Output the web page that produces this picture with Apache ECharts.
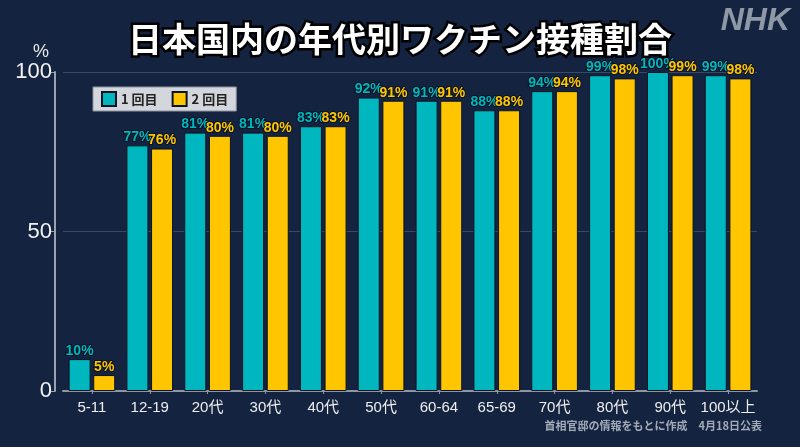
<!DOCTYPE html>
<html>
<head>
<meta charset="utf-8">
<script src="https://cdn.jsdelivr.net/npm/echarts@6/dist/echarts.min.js"></script>
<style>
	html, body { margin: 0; padding: 0; background: #14233f; }
	#chart { width: 800px; height: 447px; }
</style>
</head>
<body>
<div id="chart"></div>
<script>
var categories = ['5-11', '12-19', '20代', '30代', '40代', '50代', '60-64', '65-69', '70代', '80代', '90代', '100以上'];
var dose1 = [10, 77, 81, 81, 83, 92, 91, 88, 94, 99, 100, 99];
var dose2 = [5, 76, 80, 80, 83, 91, 91, 88, 94, 98, 99, 98];
var yTicks = [0, 50, 100];

var fontJP = '"Noto Sans CJK JP", "Noto Sans", sans-serif';
var fontNum = '"Liberation Sans", "Noto Sans CJK JP", sans-serif';
var cyan = '#00b7bf';
var yellow = '#ffc600';

var makeSeries = function(name, data, color) {
	return {
		name: name,
		type: 'bar',
		data: data,
		barWidth: 22,
		barGap: '12%',
		itemStyle: {
			color: color,
			borderColor: '#0a1322',
			borderWidth: 1
		},
		label: {
			show: true,
			position: 'top',
			distance: 1,
			formatter: '{c}%',
			color: color,
			fontSize: 14,
			fontWeight: 'bold',
			fontFamily: fontNum,
			textBorderColor: '#0a1322',
			textBorderWidth: 2
		}
	};
};

(function() {
	var option = {
		backgroundColor: '#14233f',
		animation: false,
		title: {
			text: '日本国内の年代別ワクチン接種割合',
			left: 'center',
			top: 17,
			textStyle: {
				color: '#ffffff',
				fontSize: 34,
				fontWeight: 'bold',
				fontFamily: fontJP,
				textBorderColor: '#000000',
				textBorderWidth: 5
			}
		},
		legend: {
			left: 93,
			top: 87,
			itemWidth: 14,
			itemHeight: 14,
			itemGap: 14,
			padding: [4, 8],
			backgroundColor: '#d3d6dc',
			borderColor: '#8e939c',
			borderWidth: 1,
			icon: 'rect',
			textStyle: {
				color: '#222222',
				fontSize: 13,
				fontWeight: 'bold',
				fontFamily: fontJP
			},
			data: ['1 回目', '2 回目']
		},
		grid: {
			left: 63,
			right: 43,
			top: 72,
			bottom: 56
		},
		xAxis: {
			type: 'category',
			data: categories,
			axisLine: { lineStyle: { color: '#8e96a4', width: 2 } },
			axisTick: { show: true, alignWithLabel: true, length: 3, lineStyle: { color: '#8e96a4' } },
			axisLabel: {
				interval: 0,
				color: '#eeeeee',
				fontSize: 15,
				margin: 9,
				fontFamily: fontNum
			}
		},
		yAxis: {
			type: 'value',
			min: yTicks[0],
			max: yTicks[yTicks.length - 1],
			interval: 50,
			offset: 8,
			name: '%',
			nameLocation: 'end',
			nameGap: 10,
			nameTextStyle: {
				color: '#e8e8e8',
				fontSize: 18,
				align: 'right',
				padding: [0, 6, 0, 0],
				fontFamily: fontNum
			},
			axisLine: { show: true, lineStyle: { color: '#9aa2b0', width: 2 } },
			axisTick: { show: true, length: 4, lineStyle: { color: '#9aa2b0' } },
			axisLabel: {
				color: '#f2f2f2',
				fontSize: 22,
				margin: 3,
				fontFamily: fontNum
			},
			splitLine: { lineStyle: { color: '#3a4a66', width: 1 } }
		},
		graphic: [
			{
				type: 'text',
				right: 10,
				top: 5,
				style: {
					text: 'NHK',
					fill: '#8f98a6',
					font: 'italic 900 32px "Liberation Sans", sans-serif'
				}
			},
			{
				type: 'text',
				right: 38,
				top: 420,
				style: {
					text: '首相官邸の情報をもとに作成　4月18日公表',
					fill: '#a3abb8',
					font: 'bold 11px ' + fontJP
				}
			}
		],
		series: [
			makeSeries('1 回目', dose1, cyan),
			makeSeries('2 回目', dose2, yellow)
		]
	};

	var chart = echarts.init(document.getElementById('chart'));
	chart.setOption(option, true);
})();
</script>
</body>
</html>
